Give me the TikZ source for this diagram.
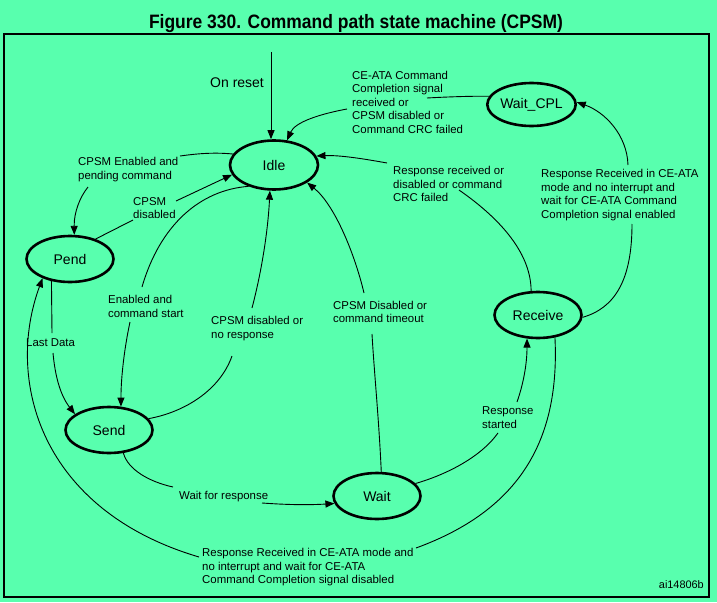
\documentclass[tikz,border=0pt]{standalone}
\usepackage{fontspec}
\setmainfont{Liberation Sans}
\newfontfamily\titlefont[FakeStretch=0.9]{Liberation Sans}
\usetikzlibrary{shapes.geometric,arrows.meta}
\definecolor{bggreen}{RGB}{88,255,174}
\begin{document}
\begin{tikzpicture}[x=1pt,y=-1pt,
  state/.style={ellipse, draw, line width=2.6pt, minimum width=87pt, minimum height=46pt, inner sep=0pt, font=\fontsize{14}{16}\selectfont},
  lbl/.style={anchor=west, align=left, inner sep=0pt, font=\fontsize{11.4}{13.5}\selectfont},
  conn/.style={line width=0.9pt},
  arr/.style={conn, -{Triangle[length=9pt,width=7pt]}}]
\fill[bggreen] (0,0) rectangle (717,602);
\useasboundingbox (0,0) rectangle (717,602);
\draw[line width=1.2pt] (4,34) rectangle (709,597);
\node[anchor=base, inner sep=0pt, font={\titlefont\bfseries\fontsize{19.4}{22}\selectfont}] (title) at (356,29) {Figure 330. Command path state machine (CPSM)};

% states
\node[state, minimum height=49pt, minimum width=88pt] (Idle) at (274,165) {Idle};
\node[state, minimum height=43pt] (WaitCPL) at (531.5,104.5) {Wait\_CPL};
\node[state] (Pend) at (70,259) {Pend};
\node[state] (Receive) at (538,315) {Receive};
\node[state] (Send) at (109,430) {Send};
\node[state] (Wait) at (377,496) {Wait};

% labels
\node[lbl, font=\fontsize{14}{16}\selectfont] (Lreset) at (210,83) {On reset};
\node[lbl] (L2) at (352,102) {CE-ATA Command\\Completion signal\\received or\\CPSM disabled or\\Command CRC failed};
\node[lbl] (L3) at (393,184) {Response received or\\disabled or command\\CRC failed};
\node[lbl] (L4) at (541,195) {Response Received in CE-ATA\\mode and no interrupt and\\wait for CE-ATA Command\\Completion signal enabled};
\node[lbl] (L5) at (78,169.5) {CPSM Enabled and\\pending command};
\node[lbl] (L6) at (133,208) {CPSM\\disabled};
\node[lbl] (L7) at (108,306.5) {Enabled and\\command start};
\node[lbl] (L8) at (211,328.5) {CPSM disabled or\\no response};
\node[lbl] (L9) at (333,312) {CPSM Disabled or\\command timeout};
\node[lbl] (L10) at (26,343) {Last Data};
\node[lbl] (L11) at (179,497) {Wait for response};
\node[lbl] (L12) at (482,417.5) {Response\\started};
\node[lbl] (L13) at (202,567.5) {Response Received in CE-ATA mode and\\no interrupt and wait for CE-ATA\\Command Completion signal disabled};
\node[lbl, anchor=east, font=\fontsize{10.9}{13}\selectfont] (ai) at (704,585) {ai14806b};

% label touch points
\coordinate (rs) at (271,52);
\coordinate (c2a) at (427,98);   \coordinate (c2b) at (347,109);
\coordinate (c3a) at (459,190);  \coordinate (c3b) at (387,163);
\coordinate (c4a) at (632,224);  \coordinate (c4b) at (628,165);
\coordinate (c5a) at (180,156);  \coordinate (c5b) at (88,187);
\coordinate (c6a) at (133,220);  \coordinate (c6b) at (176,201);
\coordinate (c7a) at (142,287);  \coordinate (c7b) at (130,322);
\coordinate (c8a) at (232,356);  \coordinate (c8b) at (252,308);
\coordinate (c9a) at (372,334);  \coordinate (c9b) at (364,293);
\coordinate (c10a) at (52,333);  \coordinate (c10b) at (53,353);
\coordinate (c11a) at (173,487); \coordinate (c11b) at (262,503);
\coordinate (c12a) at (498,433); \coordinate (c12b) at (517,402);
\coordinate (c13a) at (416,548); \coordinate (c13b) at (199,557);

% connectors
\draw[arr] (rs) -- (rs |- Idle.north);
\draw[conn] (WaitCPL.169) .. controls (470,96) and (445,97) .. (c2a);
\draw[arr] (c2b) .. controls (320,114) and (295,122) .. (Idle.62);
\draw[conn] (Receive.106) .. controls (531,250) and (495,215) .. (c3a);
\draw[arr] (c3b) .. controls (365,159) and (340,155) .. (Idle.12);
\draw[conn] (Receive.-3) .. controls (615,308) and (632,280) .. (c4a);
\draw[arr] (c4b) .. controls (627,135) and (605,112) .. (WaitCPL.3);
\draw[conn] (Idle.165) .. controls (212,152) and (195,154) .. (c5a);
\draw[arr] (c5b) .. controls (80,197) and (74,212) .. (Pend.80);
\draw[conn] (Pend.38) -- (c6a);
\draw[arr] (c6b) -- (Idle.193);
\draw[conn] (Idle.220) .. controls (200,190) and (160,225) .. (c7a);
\draw[arr] (c7b) .. controls (125,345) and (121,375) .. (Send.63);
\draw[conn] (Send.16) .. controls (185,412) and (220,390) .. (c8a);
\draw[arr] (c8b) .. controls (262,270) and (268,230) .. (Idle.261);
\draw[conn] (Wait.80) .. controls (379,420) and (374,370) .. (c9a);
\draw[arr] (c9b) .. controls (355,255) and (335,205) .. (Idle.-28);
\draw[conn] (Pend.230) -- (c10a);
\draw[arr] (c10b) .. controls (55,375) and (60,395) .. (Send.155);
\draw[conn] (Send.-58) .. controls (128,470) and (150,482) .. (c11a);
\draw[arr] (c11b) .. controls (290,505) and (310,505) .. (Wait.190);
\draw[conn] (Wait.18) .. controls (445,475) and (480,458) .. (c12a);
\draw[arr] (c12b) .. controls (523,385) and (527,365) .. (Receive.245);
\draw[conn] (Receive.-53) .. controls (560,440) and (520,510) .. (c13a);
\draw[arr] (c13b) .. controls (40,510) and (5,380) .. (Pend.215);
\end{tikzpicture}
\end{document}
